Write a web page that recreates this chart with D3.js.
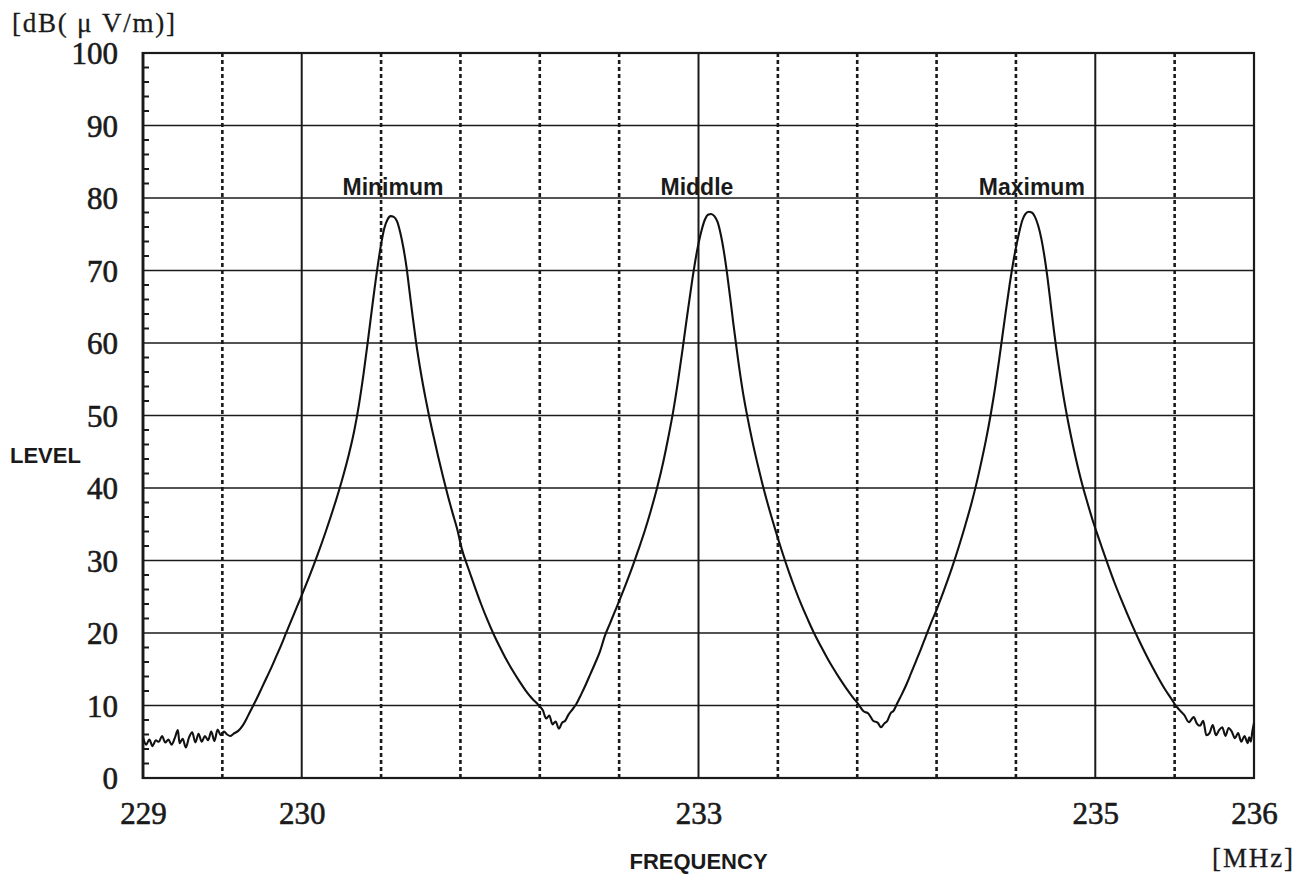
<!DOCTYPE html>
<html>
<head>
<meta charset="utf-8">
<script src="https://cdn.jsdelivr.net/npm/d3@7"></script>
<style>
  html, body { margin: 0; padding: 0; background: #fff; }
  svg { display: block; }
</style>
</head>
<body>
<svg id="chart" width="1311" height="876"></svg>
<script>
// ---------- data ----------
const freqMHz = [
  229.00,229.02,229.04,229.06,229.08,229.10,229.12,229.14,229.16,229.18,
  229.20,229.22,229.23,229.25,229.27,229.29,229.31,229.33,229.35,229.37,
  229.39,229.41,229.43,229.45,229.47,229.49,229.51,229.53,229.55,229.57,
  229.60,229.63,229.66,229.69,229.72,229.75,229.78,229.81,229.84,229.87,
  229.90,229.93,229.96,230.00,230.05,230.10,230.15,230.20,230.25,230.30,
  230.33,230.36,230.39,230.42,230.45,230.48,230.50,230.52,230.54,230.56,
  230.58,230.60,230.62,230.64,230.66,230.68,230.70,230.72,230.75,230.78,
  230.80,230.83,230.86,230.89,230.92,230.95,230.98,231.01,231.05,231.09,
  231.13,231.17,231.21,231.25,231.29,231.33,231.37,231.41,231.45,231.49,
  231.52,231.54,231.56,231.58,231.60,231.62,231.64,231.66,231.68,231.70,
  231.73,231.76,231.79,231.82,231.85,231.88,231.91,231.94,231.97,232.00,
  232.04,232.08,232.12,232.16,232.20,232.24,232.28,232.31,232.34,232.37,
  232.40,232.43,232.46,232.49,232.52,232.54,232.56,232.58,232.60,232.62,
  232.64,232.66,232.68,232.70,232.72,232.75,232.78,232.81,232.84,232.87,
  232.90,232.93,232.96,232.99,233.03,233.07,233.11,233.15,233.19,233.23,
  233.27,233.31,233.35,233.39,233.43,233.47,233.51,233.54,233.57,233.60,
  233.63,233.65,233.67,233.69,233.71,233.73,233.75,233.78,233.81,233.84,
  233.87,233.90,233.93,233.96,234.00,234.03,234.06,234.10,234.14,234.18,
  234.22,234.25,234.28,234.31,234.34,234.37,234.40,234.43,234.46,234.49,
  234.52,234.54,234.56,234.58,234.60,234.62,234.64,234.66,234.68,234.70,
  234.72,234.74,234.77,234.80,234.83,234.86,234.89,234.92,234.95,234.98,
  235.01,235.04,235.08,235.12,235.16,235.20,235.24,235.28,235.32,235.36,
  235.40,235.44,235.48,235.50,235.53,235.56,235.59,235.62,235.64,235.66,
  235.68,235.70,235.72,235.74,235.76,235.78,235.80,235.82,235.84,235.86,
  235.88,235.90,235.92,235.94,235.96,235.97,235.98,235.99,236.00
];
const levelDb = [
  5.6,4.6,5.3,4.4,5.2,5.0,5.8,4.9,5.3,4.6,
  5.5,6.6,4.8,5.4,4.2,5.6,6.3,4.9,6.1,5.0,
  5.8,5.2,6.4,5.1,6.7,5.9,6.4,6.0,5.8,6.1,
  6.5,7.3,8.5,9.8,11.1,12.5,13.9,15.3,16.8,18.3,
  19.9,21.5,23.1,25.2,27.9,30.8,33.9,37.2,40.8,44.9,
  47.8,51.4,55.8,60.8,66.0,70.8,73.6,75.8,77.0,77.5,
  77.4,76.8,75.3,73.2,70.5,67.0,63.5,60.2,56.0,52.4,
  50.2,47.2,44.3,41.6,39.0,36.6,34.3,31.5,28.9,26.4,
  24.0,21.8,19.8,18.0,16.3,14.8,13.4,12.1,11.0,10.1,
  9.3,8.2,8.6,7.4,7.8,6.8,7.6,7.9,8.7,9.3,
  10.2,11.5,12.9,14.4,15.9,17.5,19.6,21.2,22.8,24.4,
  26.6,28.9,31.4,34.0,36.9,40.1,43.8,47.0,50.5,54.6,
  59.2,64.0,68.6,72.6,75.6,77.0,77.7,77.8,77.5,76.7,
  75.0,72.6,69.6,66.2,62.6,57.6,53.2,49.6,46.4,43.5,
  40.8,38.3,36.0,33.8,31.0,28.4,26.0,23.8,21.8,19.9,
  18.2,16.6,15.1,13.7,12.4,11.2,10.1,9.2,8.9,7.9,
  7.6,7.0,7.5,7.9,8.9,9.3,10.2,11.5,12.9,14.5,
  16.1,17.7,19.4,21.1,23.2,24.9,26.7,29.2,31.9,34.8,
  37.9,40.5,43.4,46.5,50.0,54.0,58.6,63.4,68.0,72.0,
  75.2,76.9,77.8,78.1,78.0,77.4,76.2,74.4,71.9,68.8,
  65.2,61.6,56.8,52.6,49.0,45.8,42.9,40.3,38.0,35.8,
  33.8,31.9,29.4,27.0,24.8,22.7,20.7,18.8,17.0,15.3,
  13.7,12.2,10.9,10.2,9.4,8.7,7.7,8.4,7.5,7.2,
  7.9,5.9,6.2,7.3,5.9,6.6,7.0,5.8,6.9,6.4,
  5.5,6.2,5.0,5.8,4.8,5.6,5.0,6.5,7.6
];
const yTickValues = [0,10,20,30,40,50,60,70,80,90,100];
const yMinorTicks = d3.range(0, 100, 2).filter(v => v % 10 !== 0);
const xTickValues = [229, 230, 232.5, 235, 236];
const xTickLabels = ["229", "230", "233", "235", "236"];
const xSolidGrid = [230, 232.5, 235];
const xDashedGrid = [229.5, 230.5, 231, 231.5, 232, 233, 233.5, 234, 234.5, 235.5];
const peakNames = ["Minimum", "Middle", "Maximum"];
const peakLabelFreq = [230.575, 232.49, 234.60];
const yUnit = "[dB( μ V/m)]";
const xUnit = "[MHz]";
const yTitle = "LEVEL";
const xTitle = "FREQUENCY";

// ---------- layout ----------
const L = 143, R = 1254, T = 53, B = 778;
const svg = d3.select("#chart");
const x = d3.scaleLinear().domain([229, 236]).range([L, R]);
const y = d3.scaleLinear().domain([0, 100]).range([B, T]);
const ink = "#1a1a1a";
const serif = "'Liberation Serif', 'Times New Roman', serif";
const sans = "'Liberation Sans', Arial, sans-serif";

// horizontal grid
svg.append("g").selectAll("line").data(yTickValues.filter(v => v > 0 && v < 100)).join("line")
  .attr("x1", L).attr("x2", R).attr("y1", d => y(d)).attr("y2", d => y(d))
  .attr("stroke", ink).attr("stroke-width", 1.7);

// vertical grid
svg.append("g").selectAll("line").data(xSolidGrid).join("line")
  .attr("x1", d => x(d)).attr("x2", d => x(d)).attr("y1", T).attr("y2", B)
  .attr("stroke", ink).attr("stroke-width", 2);
svg.append("g").selectAll("line").data(xDashedGrid).join("line")
  .attr("x1", d => x(d)).attr("x2", d => x(d)).attr("y1", T).attr("y2", B)
  .attr("stroke", ink).attr("stroke-width", 2.6).attr("stroke-dasharray", "4,3");

// frame
svg.append("rect").attr("x", L).attr("y", T).attr("width", R - L).attr("height", B - T)
  .attr("fill", "none").attr("stroke", ink).attr("stroke-width", 2.2);
svg.append("line").attr("x1", L).attr("x2", L).attr("y1", T - 1).attr("y2", B + 1)
  .attr("stroke", ink).attr("stroke-width", 2.8);

// left axis (labels + minor ticks)
const yAxis = d3.axisLeft(y).tickValues(yTickValues).tickSize(0).tickPadding(25).tickFormat(d3.format("d"));
const yg = svg.append("g").attr("transform", `translate(${L},0)`).call(yAxis);
yg.select(".domain").remove();
yg.selectAll("text").attr("font-family", serif).attr("font-size", 31).attr("fill", ink)
  .attr("stroke", ink).attr("stroke-width", 0.6).attr("dy", "0.34em");
svg.append("g").selectAll("line").data(yMinorTicks).join("line")
  .attr("x1", L).attr("x2", L + 6).attr("y1", d => y(d)).attr("y2", d => y(d))
  .attr("stroke", ink).attr("stroke-width", 2);

// bottom axis labels
const xAxis = d3.axisBottom(x).tickValues(xTickValues).tickSize(0).tickPadding(24)
  .tickFormat((d, i) => xTickLabels[i]);
const xg = svg.append("g").attr("transform", `translate(0,${B})`).call(xAxis);
xg.select(".domain").remove();
xg.selectAll("text").attr("font-family", serif).attr("font-size", 31).attr("fill", ink)
  .attr("stroke", ink).attr("stroke-width", 0.6);

// trace
const pts = freqMHz.map((f, i) => [f, levelDb[i]]);
svg.append("path").datum(pts)
  .attr("d", d3.line().x(d => x(d[0])).y(d => y(d[1])).curve(d3.curveMonotoneX))
  .attr("fill", "none").attr("stroke", "#111").attr("stroke-width", 2.1)
  .attr("stroke-linejoin", "round");

// peak labels
svg.append("g").selectAll("text").data(peakNames).join("text")
  .attr("x", (d, i) => x(peakLabelFreq[i])).attr("y", y(80) - 3)
  .attr("text-anchor", "middle").attr("font-family", sans).attr("font-weight", "bold")
  .attr("font-size", 23).attr("fill", ink).text(d => d);

// titles / units
svg.append("text").attr("x", 12).attr("y", 32).attr("font-family", serif).attr("font-size", 27)
  .attr("fill", ink).attr("stroke", ink).attr("stroke-width", 0.3)
  .attr("textLength", 163).attr("lengthAdjust", "spacing").text(yUnit);
svg.append("text").attr("x", 1212).attr("y", 867).attr("font-family", serif).attr("font-size", 27)
  .attr("fill", ink).attr("stroke", ink).attr("stroke-width", 0.3)
  .attr("textLength", 81).attr("lengthAdjust", "spacing").text(xUnit);
svg.append("text").attr("x", 10).attr("y", 463).attr("font-family", sans).attr("font-weight", "bold")
  .attr("font-size", 22).attr("fill", ink).text(yTitle);
svg.append("text").attr("x", x(232.5)).attr("y", 869).attr("text-anchor", "middle")
  .attr("font-family", sans).attr("font-weight", "bold").attr("font-size", 22).attr("fill", ink).text(xTitle);
</script>
</body>
</html>
